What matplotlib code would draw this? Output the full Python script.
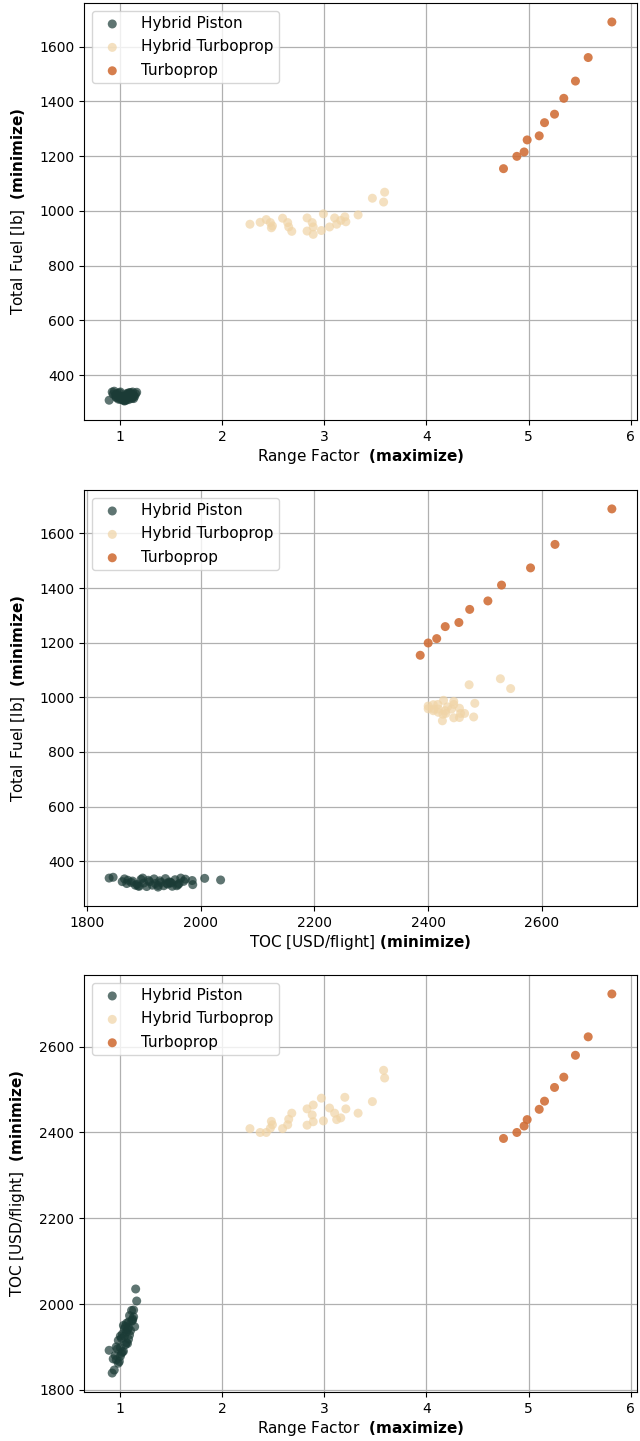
import numpy as np
import matplotlib
matplotlib.use("Agg")
import matplotlib.pyplot as plt

# Hybrid piston designs: range factor, total fuel [lb], TOC [USD/flight]
hp_range = [0.89, 0.92, 0.94, 0.99, 0.93, 1.00, 0.96, 1.01, 0.95, 1.03,
            0.97, 1.02, 0.96, 1.05, 1.00, 1.06, 0.98, 1.07, 1.01, 1.04,
            1.08, 1.02, 1.06, 1.09, 1.04, 1.10, 1.03, 1.08, 1.06, 1.11,
            1.05, 1.12, 1.08, 1.13, 1.09, 1.12, 1.11, 1.14, 1.15, 1.16,
            1.13, 0.98, 1.00, 1.07]
hp_fuel = [308, 338, 341, 335, 330, 322, 318, 312, 327, 309,
           333, 315, 320, 307, 338, 325, 312, 330, 318, 305,
           335, 322, 310, 328, 316, 336, 308, 324, 332, 314,
           320, 338, 310, 326, 334, 318, 329, 322, 331, 337,
           314, 325, 311, 319]
hp_toc = [1892, 1839, 1846, 1866, 1872, 1878, 1870, 1885, 1880, 1890,
          1895, 1888, 1900, 1905, 1898, 1910, 1915, 1908, 1920, 1925,
          1918, 1930, 1935, 1928, 1942, 1938, 1950, 1945, 1955, 1960,
          1948, 1965, 1958, 1970, 1973, 1962, 1985, 1947, 2035, 2007,
          1986, 1862, 1925, 1940]

# Hybrid turboprop designs
ht_range = [2.27, 2.37, 2.43, 2.47, 2.48, 2.49, 2.59, 2.64, 2.65, 2.68,
            2.83, 2.83, 2.88, 2.89, 2.89, 2.97, 2.99, 3.05, 3.10, 3.12,
            3.16, 3.20, 3.21, 3.33, 3.47, 3.59, 3.58]
ht_fuel = [951, 958, 968, 957, 938, 945, 973, 957, 941, 925,
           974, 926, 957, 941, 914, 928, 989, 941, 974, 951,
           965, 978, 960, 985, 1046, 1068, 1032]
ht_toc = [2409, 2400, 2400, 2410, 2426, 2418, 2409, 2418, 2431, 2445,
          2417, 2455, 2441, 2464, 2425, 2480, 2427, 2457, 2445, 2430,
          2434, 2482, 2455, 2445, 2472, 2527, 2545]

# Conventional turboprop designs
tp_range = [4.755, 4.886, 4.957, 4.987, 5.105, 5.157, 5.255, 5.346, 5.46, 5.585, 5.817]
tp_fuel = [1154, 1199, 1215, 1259, 1274, 1322, 1353, 1411, 1474, 1560, 1690]
tp_toc = [2386, 2400, 2415, 2430, 2454, 2473, 2505, 2529, 2580, 2623, 2723]

groups = [
    ("Hybrid Piston", hp_range, hp_fuel, hp_toc, "#1b3b36", 0.7),
    ("Hybrid Turboprop", ht_range, ht_fuel, ht_toc, "#f0d4a6", 0.7),
    ("Turboprop", tp_range, tp_fuel, tp_toc, "#d06c34", 0.88),
]

fig = plt.figure(figsize=(6.4, 14.41), dpi=100)
W, H = 640, 1441
boxes = [(84, 3, 637, 420), (84, 490, 637, 906), (84, 975, 637, 1392)]
axes = [fig.add_axes([l / W, 1 - b / H, (r - l) / W, (b - t) / H]) for l, t, r, b in boxes]

# which columns go on x / y for each panel
panels = [(1, 2), (3, 2), (1, 3)]
xlabels = ["Range Factor  $\\bf{(maximize)}$",
           "TOC [USD/flight] $\\bf{(minimize)}$",
           "Range Factor  $\\bf{(maximize)}$"]
ylabels = ["Total Fuel [lb]  $\\bf{(minimize)}$",
           "Total Fuel [lb]  $\\bf{(minimize)}$",
           "TOC [USD/flight]  $\\bf{(minimize)}$"]

for ax, (xi, yi), xl, yl in zip(axes, panels, xlabels, ylabels):
    for g in groups:
        ax.scatter(g[xi], g[yi], s=42, color=g[4], alpha=g[5],
                   edgecolors="none", label=g[0], zorder=3)
    ax.grid(True, color="#b0b0b0", linewidth=0.9, zorder=0)
    ax.set_axisbelow(True)
    ax.set_xlabel(xl, fontsize=11, labelpad=2)
    ax.set_ylabel(yl, fontsize=11, labelpad=9)
    ax.tick_params(labelsize=10)
    ax.legend(loc="upper left", fontsize=11, handletextpad=0.9,
              labelspacing=0.55, borderpad=0.35)

axes[0].set_xticks([1, 2, 3, 4, 5, 6])
axes[2].set_xticks([1, 2, 3, 4, 5, 6])
axes[1].set_xticks([1800, 2000, 2200, 2400, 2600])

plt.savefig("out.png", dpi=100)
